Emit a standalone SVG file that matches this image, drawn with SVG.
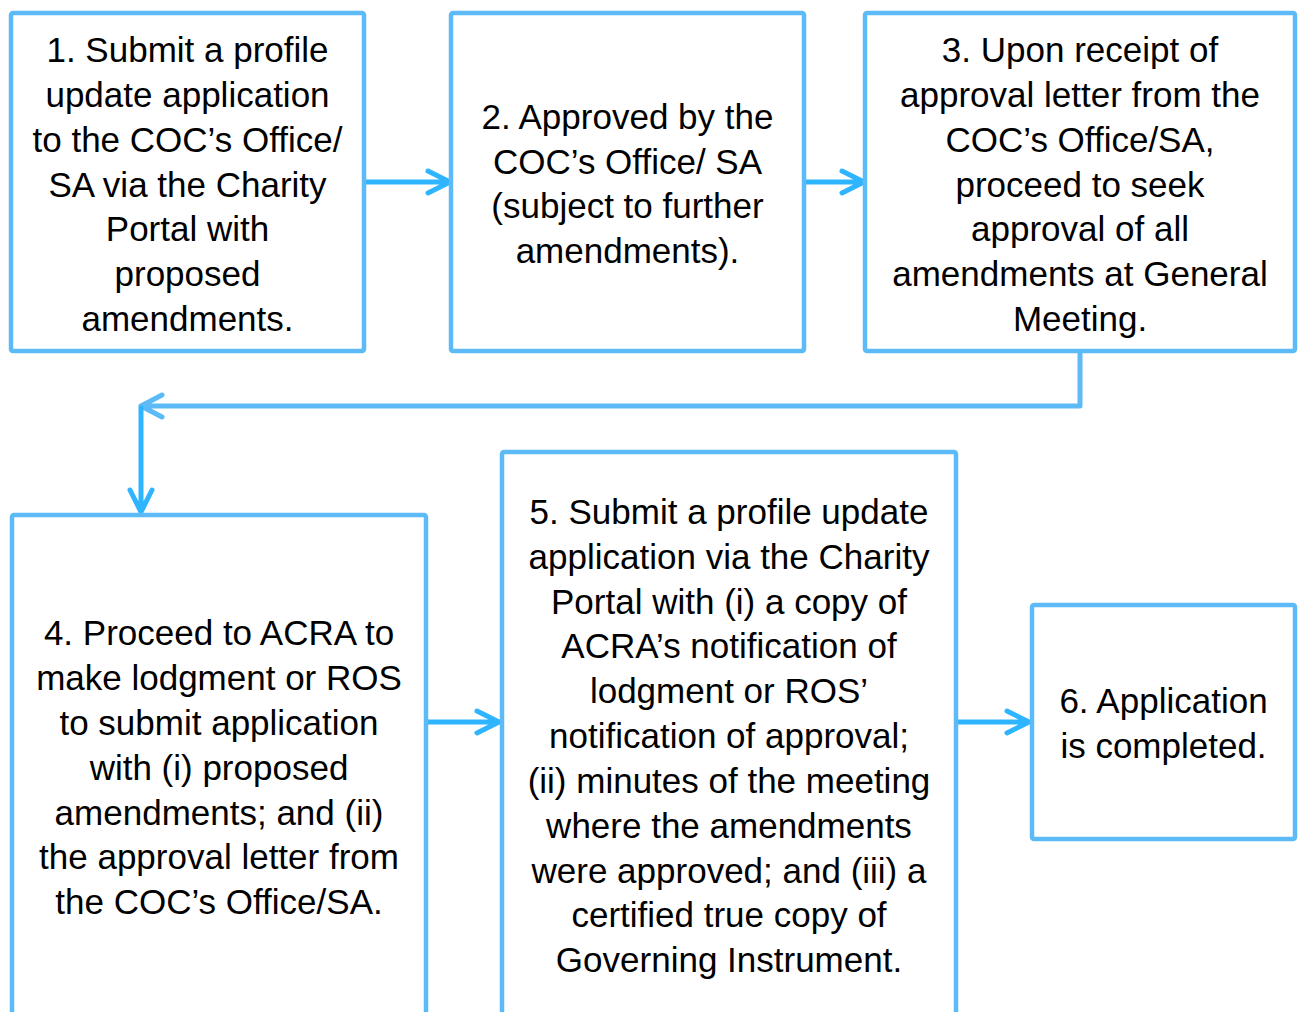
<svg xmlns="http://www.w3.org/2000/svg" width="1303" height="1012" viewBox="0 0 1303 1012">
<style>
.box{fill:#fff;stroke:#5CBBF6;stroke-width:4.5}
.t{font-family:"Liberation Sans",Arial,sans-serif;font-size:35px;fill:#000;text-anchor:middle}
.ar{fill:none;stroke:#2FB5FF;stroke-width:5;stroke-linecap:round;stroke-linejoin:round}
.ar2{fill:none;stroke:#5CBBF6;stroke-width:5;stroke-linecap:round;stroke-linejoin:round}
</style>
<rect width="1303" height="1012" fill="#fff"/>
<g id="connectors">
  <path class="ar" d="M364 182H450M428 171L450 182L428 193"/>
  <path class="ar" d="M805 182H864M842 171L864 182L842 193"/>
  <path class="ar2" d="M1080 351V406H141M162 395L141 406L162 417"/>
  <path class="ar" d="M141 408V512M130 490L141 512L152 490"/>
  <path class="ar" d="M426 722H499M477 711L499 722L477 733"/>
  <path class="ar" d="M956 722H1029M1007 711L1029 722L1007 733"/>
</g>
<g id="node1">
  <rect class="box" x="11" y="13" width="353" height="338" rx="2"/>
  <text class="t"><tspan x="187.5" y="62">1. Submit a profile</tspan><tspan x="187.5" y="107">update application</tspan><tspan x="187.5" y="152">to the COC’s Office/</tspan><tspan x="187.5" y="197">SA via the Charity</tspan><tspan x="187.5" y="241">Portal with</tspan><tspan x="187.5" y="286">proposed</tspan><tspan x="187.5" y="331">amendments.</tspan></text>
</g>
<g id="node2">
  <rect class="box" x="451" y="13" width="353" height="338" rx="2"/>
  <text class="t"><tspan x="627.5" y="129">2. Approved by the</tspan><tspan x="627.5" y="174">COC’s Office/ SA</tspan><tspan x="627.5" y="218">(subject to further</tspan><tspan x="627.5" y="263">amendments).</tspan></text>
</g>
<g id="node3">
  <rect class="box" x="865" y="13" width="430" height="338" rx="2"/>
  <text class="t"><tspan x="1080" y="62">3. Upon receipt of</tspan><tspan x="1080" y="107">approval letter from the</tspan><tspan x="1080" y="152">COC’s Office/SA,</tspan><tspan x="1080" y="197">proceed to seek</tspan><tspan x="1080" y="241">approval of all</tspan><tspan x="1080" y="286">amendments at General</tspan><tspan x="1080" y="331">Meeting.</tspan></text>
</g>
<g id="node4">
  <rect class="box" x="12" y="515" width="414" height="520" rx="2"/>
  <text class="t"><tspan x="219" y="645">4. Proceed to ACRA to</tspan><tspan x="219" y="690">make lodgment or ROS</tspan><tspan x="219" y="735">to submit application</tspan><tspan x="219" y="780">with (i) proposed</tspan><tspan x="219" y="825">amendments; and (ii)</tspan><tspan x="219" y="869">the approval letter from</tspan><tspan x="219" y="914">the COC’s Office/SA.</tspan></text>
</g>
<g id="node5">
  <rect class="box" x="502" y="452" width="454" height="590" rx="2"/>
  <text class="t"><tspan x="729" y="524">5. Submit a profile update</tspan><tspan x="729" y="569">application via the Charity</tspan><tspan x="729" y="614">Portal with (i) a copy of</tspan><tspan x="729" y="658">ACRA’s notification of</tspan><tspan x="729" y="703">lodgment or ROS’</tspan><tspan x="729" y="748">notification of approval;</tspan><tspan x="729" y="793">(ii) minutes of the meeting</tspan><tspan x="729" y="838">where the amendments</tspan><tspan x="729" y="883">were approved; and (iii) a</tspan><tspan x="729" y="927">certified true copy of</tspan><tspan x="729" y="972">Governing Instrument.</tspan></text>
</g>
<g id="node6">
  <rect class="box" x="1032" y="605" width="263" height="234" rx="2"/>
  <text class="t"><tspan x="1163.5" y="713">6. Application</tspan><tspan x="1163.5" y="758">is completed.</tspan></text>
</g>
</svg>
